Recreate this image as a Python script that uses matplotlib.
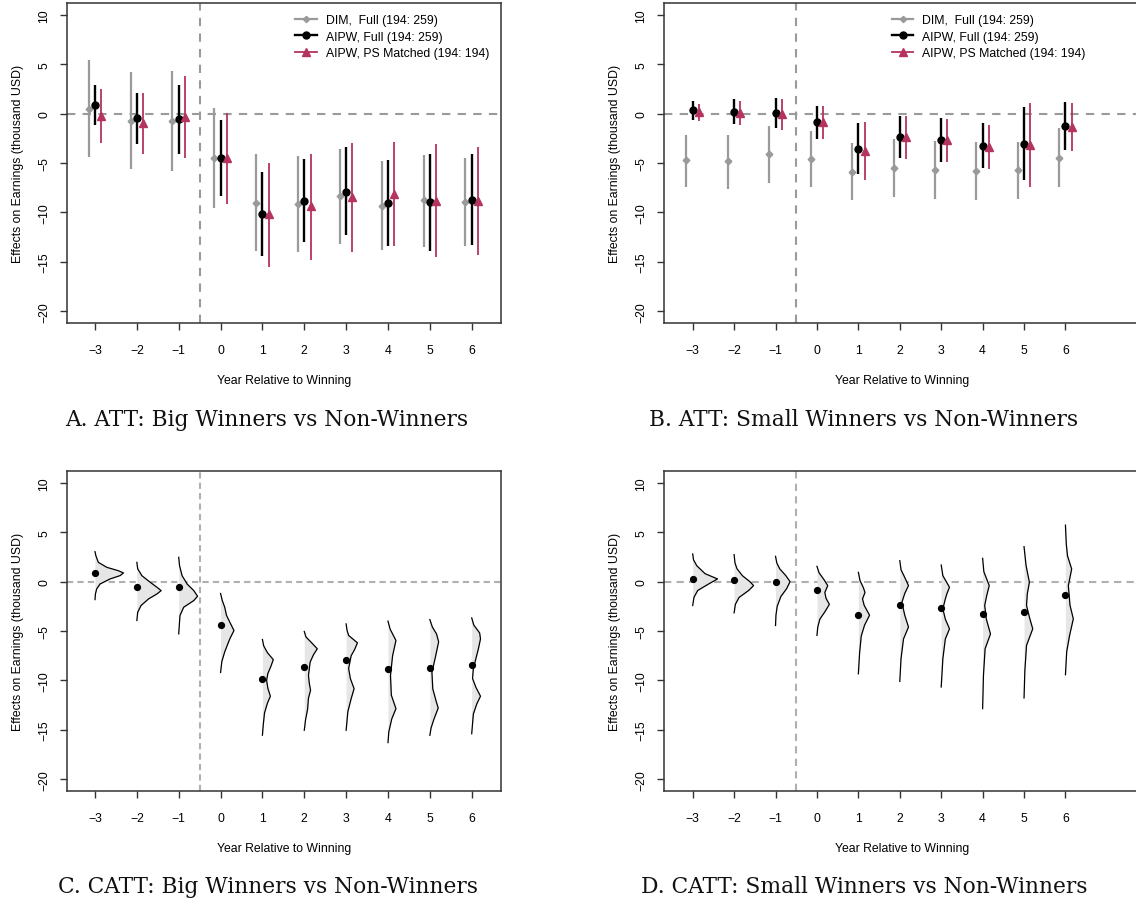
import numpy as np
import matplotlib.pyplot as plt
from matplotlib.lines import Line2D

plt.rcParams["font.family"] = ["Liberation Sans", "DejaVu Sans"]

years = [-3, -2, -1, 0, 1, 2, 3, 4, 5, 6]

# ---- Panel A: ATT, big winners ----
a_dim = [0.5, -0.74, -0.74, -4.47, -9.0, -9.2, -8.37, -9.31, -8.77, -8.94]
a_dim_lo = [-4.44, -5.65, -5.82, -9.55, -13.9, -14.05, -13.24, -13.85, -13.48, -13.41]
a_dim_hi = [5.45, 4.17, 4.34, 0.6, -4.13, -4.34, -3.56, -4.84, -4.2, -4.47]
a_aipw = [0.9, -0.47, -0.54, -4.47, -10.15, -8.8, -7.9, -9.08, -8.97, -8.7]
a_aipw_lo = [-1.2, -3.03, -4.07, -8.34, -14.4, -13.04, -12.34, -13.38, -13.92, -13.3]
a_aipw_hi = [2.9, 2.05, 2.92, -0.6, -5.9, -4.57, -3.43, -4.74, -4.07, -4.07]
a_ps = [-0.2, -1.0, -0.34, -4.47, -10.2, -9.4, -8.47, -8.13, -8.8, -8.8]
a_ps_lo = [-2.96, -4.1, -4.54, -9.2, -15.5, -14.8, -14.05, -13.45, -14.55, -14.29]
a_ps_hi = [2.45, 2.05, 3.83, 0.1, -4.97, -4.1, -3.0, -2.92, -3.06, -3.36]

# ---- Panel B: ATT, small winners ----
b_dim = [-4.74, -4.84, -4.13, -4.64, -5.88, -5.55, -5.71, -5.82, -5.75, -4.47]
b_dim_lo = [-7.4, -7.6, -7.0, -7.46, -8.77, -8.47, -8.6, -8.74, -8.67, -7.46]
b_dim_hi = [-2.12, -2.12, -1.28, -1.78, -3.0, -2.62, -2.76, -2.92, -2.86, -1.5]
b_aipw = [0.34, 0.2, 0.03, -0.84, -3.56, -2.32, -2.66, -3.26, -3.03, -1.24]
b_aipw_lo = [-0.6, -1.08, -1.5, -2.55, -6.15, -4.5, -4.9, -5.5, -6.76, -3.7]
b_aipw_hi = [1.28, 1.45, 1.58, 0.8, -0.94, -0.2, -0.44, -1.0, 0.67, 1.2]
b_ps = [0.17, 0.07, -0.07, -0.87, -3.76, -2.35, -2.7, -3.4, -3.13, -1.34]
b_ps_lo = [-0.77, -1.18, -1.65, -2.6, -6.76, -4.6, -4.94, -5.6, -7.43, -3.83]
b_ps_hi = [1.0, 1.24, 1.45, 0.77, -0.8, -0.2, -0.5, -1.2, 1.07, 1.07]

# ---- Panel C: CATT, big winners (point + density profile: y values, widths) ----
c_pt = [0.91, -0.5, -0.5, -4.38, -9.9, -8.62, -7.95, -8.89, -8.79, -8.48]
c_dens_y = [
    [3.03, 2.63, 1.95, 1.45, 1.1, 0.88, 0.61, 0.27, -0.24, -0.74, -1.25, -1.82],
    [1.95, 1.3, 0.6, -0.07, -0.57, -0.91, -1.25, -1.75, -2.42, -3.1, -3.94],
    [2.46, 1.62, 0.61, -0.24, -0.91, -1.48, -1.92, -2.59, -3.43, -5.29],
    [-1.2, -1.9, -2.6, -3.4, -4.1, -4.95, -5.8, -7.1, -8.1, -9.2],
    [-5.86, -6.5, -7.2, -7.9, -8.6, -9.3, -10.0, -10.8, -11.6, -12.3, -13.3, -14.5, -15.55],
    [-5.05, -5.6, -6.3, -6.8, -7.4, -8.15, -9.5, -10.3, -11.0, -11.8, -12.9, -14.0, -15.05],
    [-4.28, -4.9, -5.45, -6.2, -6.9, -7.5, -8.8, -9.8, -10.84, -11.85, -13.2, -15.05],
    [-4.0, -4.8, -5.96, -7.5, -9.5, -11.5, -12.86, -13.9, -15.2, -16.3],
    [-3.84, -4.6, -5.3, -6.1, -7.5, -9.2, -10.85, -12.1, -12.8, -13.9, -14.8, -15.56],
    [-3.67, -4.4, -5.2, -5.8, -6.8, -7.8, -8.8, -9.8, -10.7, -11.6, -12.4, -13.4, -15.4],
]
c_dens_w = [
    [0, 0.02, 0.08, 0.28, 0.56, 0.68, 0.6, 0.36, 0.12, 0.04, 0.01, 0],
    [0, 0.02, 0.12, 0.32, 0.48, 0.58, 0.48, 0.28, 0.1, 0.02, 0],
    [0, 0.02, 0.08, 0.2, 0.36, 0.45, 0.36, 0.12, 0.03, 0],
    [0, 0.04, 0.1, 0.14, 0.22, 0.32, 0.22, 0.1, 0.03, 0],
    [0, 0.03, 0.12, 0.26, 0.2, 0.13, 0.1, 0.13, 0.19, 0.12, 0.05, 0.02, 0],
    [0, 0.04, 0.2, 0.31, 0.22, 0.14, 0.1, 0.12, 0.15, 0.1, 0.08, 0.03, 0],
    [0, 0.02, 0.06, 0.27, 0.2, 0.12, 0.06, 0.1, 0.19, 0.12, 0.04, 0],
    [0, 0.05, 0.19, 0.11, 0.06, 0.08, 0.19, 0.09, 0.02, 0],
    [0, 0.06, 0.16, 0.21, 0.14, 0.05, 0.07, 0.15, 0.2, 0.1, 0.03, 0],
    [0, 0.05, 0.19, 0.21, 0.16, 0.1, 0.04, 0.02, 0.1, 0.21, 0.12, 0.04, 0],
]

# ---- Panel D: CATT, small winners ----
d_pt = [0.27, 0.13, -0.07, -0.88, -3.43, -2.32, -2.66, -3.23, -3.03, -1.35]
d_dens_y = [
    [2.8, 2.2, 1.6, 0.8, 0.27, -0.2, -0.9, -1.6, -2.42],
    [2.73, 1.9, 1.3, 0.6, 0.0, -0.4, -0.9, -1.6, -2.3, -3.16],
    [2.56, 1.9, 1.3, 0.6, 0.0, -0.7, -1.5, -2.5, -3.4, -4.44],
    [1.55, 0.9, 0.2, -0.4, -1.1, -1.7, -2.3, -3.0, -3.8, -4.6, -5.45],
    [0.94, 0.1, -0.6, -1.1, -1.75, -2.4, -3.4, -4.4, -5.5, -7.2, -9.33],
    [2.12, 1.2, 0.6, -0.4, -1.2, -2.1, -3.4, -4.6, -5.8, -7.8, -10.1],
    [1.68, 0.6, -0.57, -1.2, -1.75, -2.76, -3.8, -4.78, -5.8, -7.8, -10.67],
    [2.36, 1.0, -0.4, -1.4, -2.4, -3.8, -5.3, -6.8, -9.5, -12.86],
    [3.54, 1.6, -0.07, -1.2, -2.4, -3.6, -4.78, -6.46, -9.0, -11.78],
    [5.72, 3.8, 2.6, 1.28, -0.4, -2.4, -3.77, -5.45, -7.1, -9.43],
]
d_dens_w = [
    [0, 0.02, 0.1, 0.3, 0.6, 0.4, 0.12, 0.03, 0],
    [0, 0.02, 0.07, 0.2, 0.38, 0.47, 0.35, 0.12, 0.03, 0],
    [0, 0.03, 0.1, 0.25, 0.35, 0.27, 0.13, 0.04, 0.01, 0],
    [0, 0.05, 0.17, 0.26, 0.19, 0.22, 0.3, 0.2, 0.07, 0.02, 0],
    [0, 0.04, 0.12, 0.16, 0.1, 0.14, 0.27, 0.15, 0.07, 0.03, 0],
    [0, 0.03, 0.1, 0.21, 0.12, 0.05, 0.12, 0.21, 0.09, 0.03, 0],
    [0, 0.04, 0.2, 0.14, 0.1, 0.04, 0.1, 0.2, 0.1, 0.04, 0],
    [0, 0.03, 0.16, 0.1, 0.05, 0.09, 0.19, 0.06, 0.02, 0],
    [0, 0.05, 0.13, 0.08, 0.06, 0.13, 0.21, 0.06, 0.02, 0],
    [0, 0.02, 0.05, 0.15, 0.07, 0.11, 0.19, 0.1, 0.03, 0],
]

legend_labels = ["DIM,  Full (194: 259)", "AIPW, Full (194: 259)", "AIPW, PS Matched (194: 194)"]
captions = ["A. ATT: Big Winners vs Non-Winners", "B. ATT: Small Winners vs Non-Winners",
            "C. CATT: Big Winners vs Non-Winners", "D. CATT: Small Winners vs Non-Winners"]

GRAY = "#9a9a9a"
MAROON = "#b5345f"
W, H = 1136, 904

fig = plt.figure(figsize=(W / 100, H / 100), dpi=100)


def make_ax(left, top, right, bottom, xlim):
    ax = fig.add_axes([left / W, 1 - bottom / H, (right - left) / W, (bottom - top) / H])
    ax.set_xlim(*xlim)
    ax.set_ylim(-21.2, 11.2)
    ax.set_xticks(years)
    ax.set_yticks([-20, -15, -10, -5, 0, 5, 10])
    for s in ax.spines.values():
        s.set_linewidth(1.1)
        s.set_color("#333333")
    ax.tick_params(axis="both", length=5, width=1.0, color="#333333", labelsize=8.8)
    ax.tick_params(axis="x", pad=10)
    ax.tick_params(axis="y", pad=7)
    for lbl in ax.get_yticklabels():
        lbl.set_rotation(90)
        lbl.set_va("center")
    ax.set_xlabel("Year Relative to Winning", fontsize=8.8, labelpad=13)
    ax.set_ylabel("Effects on Earnings (thousand USD)", fontsize=8.8, labelpad=10)
    return ax


def att_panel(ax, anchor_x, dim, dlo, dhi, aipw, alo, ahi, ps, plo, phi):
    x = np.array(years, dtype=float)
    ax.axhline(0, color=GRAY, lw=1.5, ls=(0, (4, 3.5)), zorder=1)
    ax.axvline(-0.5, color=GRAY, lw=1.5, ls=(0, (4, 3.5)), zorder=1)
    ax.vlines(x - 0.15, dlo, dhi, color=GRAY, lw=1.6, zorder=2)
    ax.plot(x - 0.15, dim, ls="none", marker="D", ms=3.4, color=GRAY, zorder=3)
    ax.vlines(x, alo, ahi, color="black", lw=1.7, zorder=2)
    ax.plot(x, aipw, ls="none", marker="o", ms=5, color="black", zorder=3)
    ax.vlines(x + 0.15, plo, phi, color=MAROON, lw=1.3, zorder=2)
    ax.plot(x + 0.15, ps, ls="none", marker="^", ms=5.5, color=MAROON, zorder=3)
    handles = [
        Line2D([], [], color=GRAY, lw=1.6, marker="D", ms=3.2),
        Line2D([], [], color="black", lw=1.7, marker="o", ms=5),
        Line2D([], [], color=MAROON, lw=1.3, marker="^", ms=5.5),
    ]
    ax.legend(handles, legend_labels, loc="upper left", bbox_to_anchor=(anchor_x, 0.985),
              frameon=False, fontsize=8.8, handlelength=1.75, handletextpad=0.75,
              labelspacing=0.38, borderpad=0.3, borderaxespad=0.2)


def catt_panel(ax, pts, dys, dws, dash):
    ax.axhline(0, color="#b0b0b0", lw=1.5, ls=dash, zorder=1)
    ax.axvline(-0.5, color="#b0b0b0", lw=1.5, ls=dash, zorder=1)
    for x0, ys, ws in zip(years, dys, dws):
        ys = np.array(ys)
        ws = np.array(ws)
        ax.fill_betweenx(ys, x0, x0 + ws, color="#e6e6e6", lw=0, zorder=2)
        ax.plot(x0 + ws, ys, color="black", lw=0.9, zorder=3)
    ax.plot(years, pts, ls="none", marker="o", ms=4.2, color="black", zorder=4)


axA = make_ax(67, 4, 501, 324, (-3.669, 6.70))
att_panel(axA, 0.512, a_dim, a_dim_lo, a_dim_hi, a_aipw, a_aipw_lo, a_aipw_hi,
          a_ps, a_ps_lo, a_ps_hi)
axB = make_ax(664, 4, 1140, 324, (-3.693, 7.80))
att_panel(axB, 0.466, b_dim, b_dim_lo, b_dim_hi, b_aipw, b_aipw_lo, b_aipw_hi,
          b_ps, b_ps_lo, b_ps_hi)

axC = make_ax(67, 472, 501, 792, (-3.669, 6.70))
catt_panel(axC, c_pt, c_dens_y, c_dens_w, (0, (3, 2)))
axD = make_ax(664, 472, 1140, 792, (-3.693, 7.80))
catt_panel(axD, d_pt, d_dens_y, d_dens_w, (0, (3.5, 2.5)))

for cx, cy, txt in [(267, 420, captions[0]), (864, 420, captions[1]),
                    (268, 887, captions[2]), (864, 887, captions[3])]:
    fig.text(cx / W, 1 - cy / H, txt, ha="center", va="center",
             family="DejaVu Serif", fontsize=15.7, color="#111111")

fig.savefig("out.png", dpi=100)
